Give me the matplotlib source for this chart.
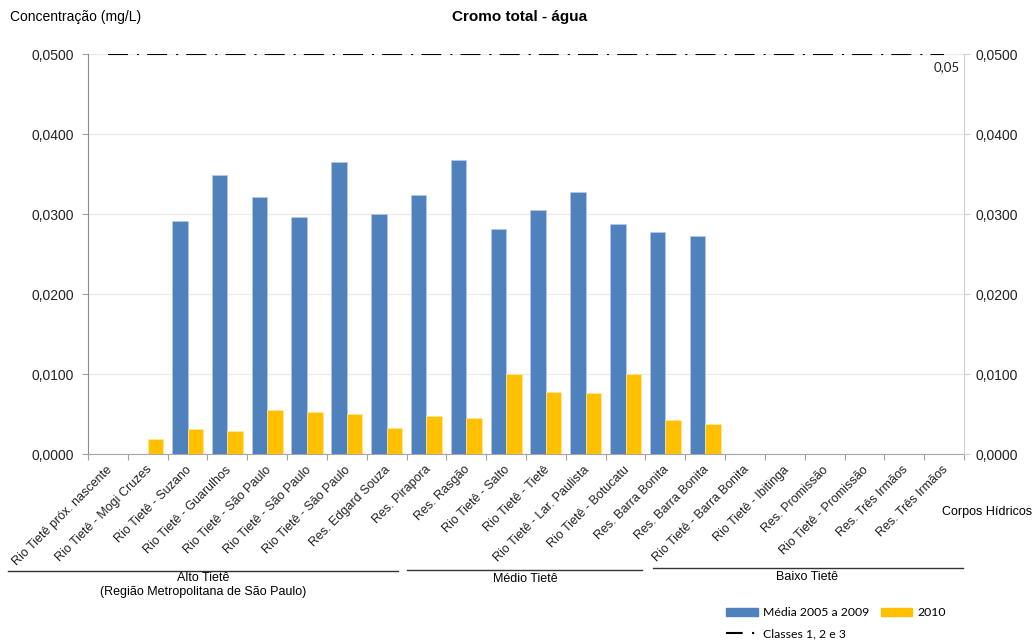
import numpy as np
import matplotlib
matplotlib.use("Agg")
import matplotlib.pyplot as plt
from matplotlib.lines import Line2D
from matplotlib.patches import Patch
from matplotlib.ticker import FixedLocator, FuncFormatter

plt.rcParams['font.family'] = ['Liberation Sans', 'DejaVu Sans']

# Sampling points along the Tietê river
corpos = [
    "Rio Tietê próx. nascente", "Rio Tietê - Mogi Cruzes", "Rio Tietê - Suzano",
    "Rio Tietê - Guarulhos", "Rio Tietê - São Paulo", "Rio Tietê - São Paulo",
    "Rio Tietê - São Paulo", "Res. Edgard Souza", "Res. Pirapora", "Res. Rasgão",
    "Rio Tietê - Salto", "Rio Tietê - Tietê", "Rio Tietê - Lar. Paulista",
    "Rio Tietê - Botucatu", "Res. Barra Bonita", "Res. Barra Bonita",
    "Rio Tietê - Barra Bonita", "Rio Tietê - Ibitinga", "Res. Promissão",
    "Rio Tietê - Promissão", "Res. Três Irmãos", "Res. Três Irmãos",
]
nan = np.nan
media_2005_2009 = [nan, nan, 0.0291, 0.0349, 0.0321, 0.0296, 0.0365, 0.0300,
                   0.0324, 0.0367, 0.0281, 0.0305, 0.0328, 0.0288, 0.0277, 0.0272,
                   nan, nan, nan, nan, nan, nan]
ano_2010 = [nan, 0.0019, 0.0031, 0.0029, 0.0055, 0.0053, 0.0050, 0.0033,
            0.0048, 0.0045, 0.0100, 0.0078, 0.0076, 0.0100, 0.0043, 0.0037,
            nan, nan, nan, nan, nan, nan]
limite_classes = 0.05
y_ticks = [0.0, 0.01, 0.02, 0.03, 0.04, 0.05]

BLUE = "#4F81BD"
YELLOW = "#FFC000"
DASHDOT = (0, (9.6, 4.3, 1.0, 3.9))
LEG_FONT = ["Lato", "DejaVu Sans"]

fig = plt.figure(figsize=(10.35, 6.41), dpi=100)
W, H = 1035, 641
ax = fig.add_axes([88 / W, 1 - 454 / H, (964 - 88) / W, (454 - 54) / H])

x = np.arange(len(corpos))
bw = 0.39
ax.bar(x - bw / 2, media_2005_2009, width=bw, color=BLUE, edgecolor="#B7CBE3",
       linewidth=0.5, zorder=3)
ax.bar(x + bw / 2, ano_2010, width=bw, color=YELLOW, edgecolor="#FFE9A0",
       linewidth=0.5, zorder=3)

# Reference limit for classes 1, 2 and 3
ax.plot([x[0], x[-1]], [limite_classes, limite_classes], color="black", lw=1.5,
        linestyle=DASHDOT, zorder=4)
ax.annotate("0,05", xy=(0.9954, limite_classes),
            xycoords=("axes fraction", "data"), xytext=(0, -9.5),
            textcoords="offset points", ha="right", va="center",
            fontsize=9.5, family=LEG_FONT, color="#222222")

ax.set_xlim(-0.5, len(corpos) - 0.5)
ax.set_ylim(0, 0.05)

fmt = FuncFormatter(lambda v, p: f"{v:.4f}".replace(".", ","))
ax.yaxis.set_major_locator(FixedLocator(y_ticks))
ax.yaxis.set_major_formatter(fmt)
ax.grid(axis="y", color="#EBEBEB", lw=1.0, zorder=0)
ax.set_axisbelow(True)

ax.set_xticks(np.arange(len(corpos) + 1) - 0.5)
ax.set_xticklabels([])
ax.tick_params(axis="x", length=4, color="#A0A0A0", width=0.8)
for i, lab in enumerate(corpos):
    ax.annotate(lab, xy=(i, 0), xycoords=("data", "axes fraction"),
                xytext=(1.5, -10), textcoords="offset points", rotation=45,
                ha="right", va="center", rotation_mode="anchor",
                fontsize=9, color="#222222")

ax.tick_params(axis="y", length=4, color="#A0A0A0", labelsize=10,
               labelcolor="#222222", pad=6)
for s in ["top", "right"]:
    ax.spines[s].set_visible(False)
ax.spines["left"].set_color("#8C8C8C")
ax.spines["bottom"].set_color("#A6A6A6")

ax2 = ax.twinx()
ax2.set_ylim(0, 0.05)
ax2.yaxis.set_major_locator(FixedLocator(y_ticks))
ax2.yaxis.set_major_formatter(fmt)
ax2.tick_params(axis="y", length=4, color="#D0D0D0", labelsize=10,
                labelcolor="#222222", pad=4)
for s in ["top", "left", "bottom"]:
    ax2.spines[s].set_visible(False)
ax2.spines["right"].set_color("#D0D0D0")

# Titles
fig.text(520 / W, 1 - 17 / H, "Cromo total - água", ha="center", va="center",
         fontsize=11, fontweight="bold")
fig.text(10 / W, 1 - 17 / H, "Concentração (mg/L)", ha="left", va="center",
         fontsize=10)
fig.text(1032 / W, 1 - 512 / H, "Corpos Hídricos", ha="right", va="center",
         fontsize=9)

# River stretch groupings
grupos = [
    ((8, 398), 571, "Alto Tietê\n(Região Metropolitana de São Paulo)", 203, 585),
    ((407, 642), 570, "Médio Tietê", 525, 579),
    ((653, 963), 568, "Baixo Tietê", 807, 577),
]
for (x0, x1), yl, txt, xt, yt in grupos:
    fig.add_artist(Line2D([x0 / W, x1 / W], [1 - yl / H, 1 - yl / H],
                          color="#333333", lw=1.0))
    fig.text(xt / W, 1 - yt / H, txt, ha="center", va="center", fontsize=9,
             linespacing=1.2)

# Legends
leg_font = {"family": LEG_FONT, "size": 8.8}
h1 = [Patch(color=BLUE), Patch(color=YELLOW)]
fig.legend(h1, ["Média 2005 a 2009", "2010"], ncol=2, frameon=False,
           prop=leg_font, handlelength=2.6, handleheight=0.55,
           columnspacing=0.95, handletextpad=0.4, borderpad=0, borderaxespad=0,
           loc="center left", bbox_to_anchor=(726 / W, 1 - 613 / H))
h2 = [Line2D([0], [0], color="black", lw=1.5, linestyle=(0, (8, 4.5, 1.0, 3)))]
fig.legend(h2, ["Classes 1, 2 e 3"], frameon=False, prop=leg_font,
           handlelength=2.6, handletextpad=0.4, borderpad=0, borderaxespad=0,
           loc="center left", bbox_to_anchor=(726 / W, 1 - 634 / H))

fig.savefig("out.png", dpi=100)
